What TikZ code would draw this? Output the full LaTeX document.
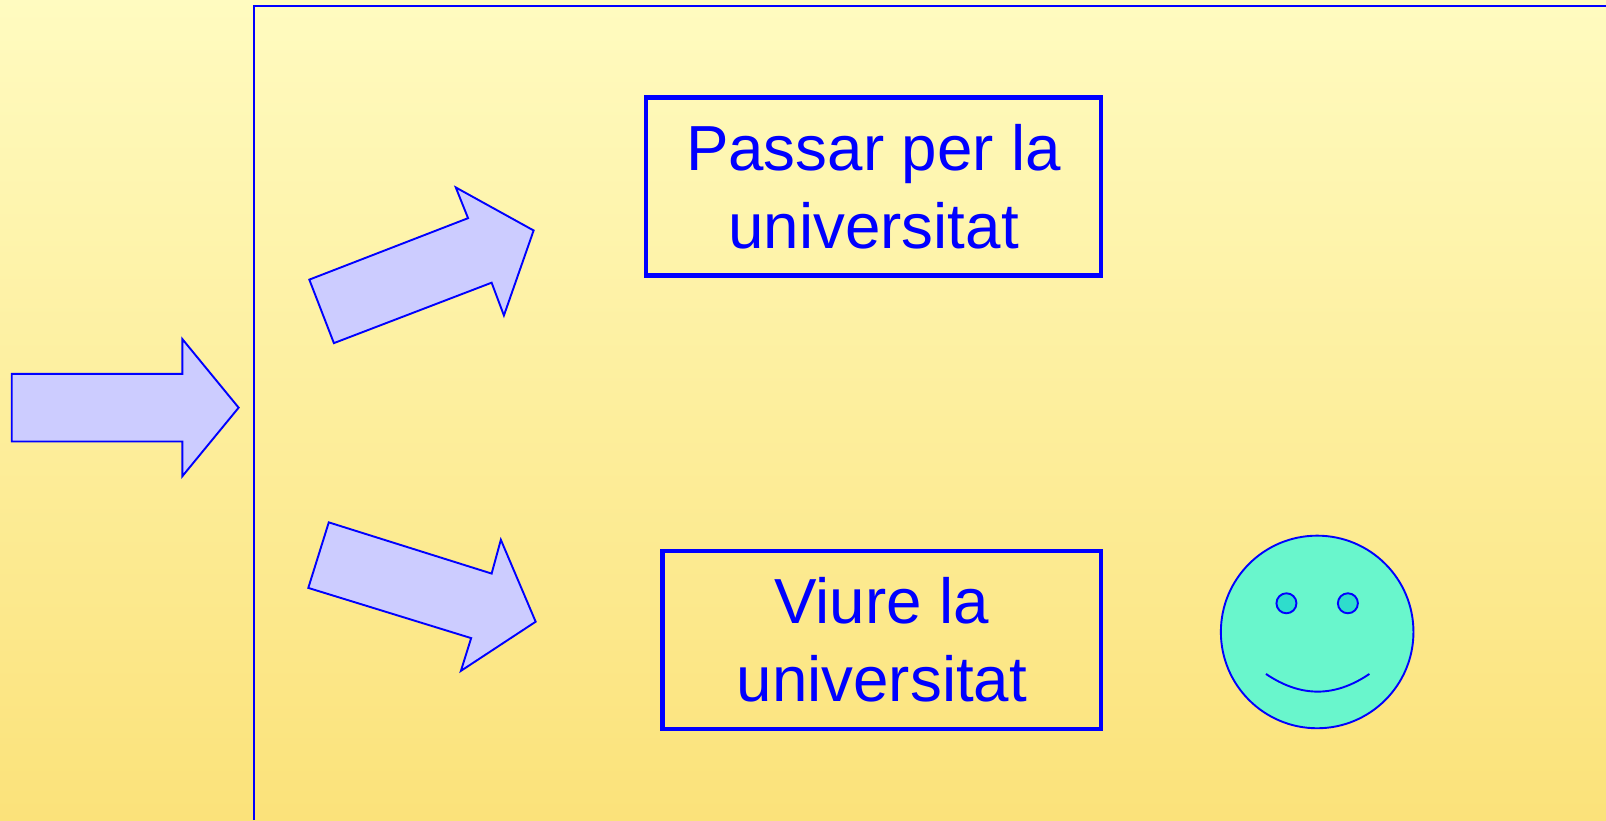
\documentclass[tikz,border=0pt]{standalone}
\usepackage{fontspec}
\setmainfont{Liberation Sans}
\definecolor{bgtop}{HTML}{FFFBC0}
\definecolor{bgbottom}{HTML}{FBE27A}
\definecolor{arrowfill}{HTML}{CCCCFF}
\definecolor{facefill}{HTML}{69F6CC}
\definecolor{eyefill}{HTML}{2EDDCC}
\tikzstyle{block} = [draw=blue, line width=2.2pt, rectangle, text=blue, align=center,
    font=\fontsize{31.85}{39}\selectfont, minimum height=89.1pt, inner sep=0pt]
\tikzstyle{bigarrow} = [draw=blue, fill=arrowfill, line width=0.95pt, line join=miter]
\tikzstyle{face} = [draw=blue, fill=facefill, line width=0.95pt, circle, minimum size=96.3pt, inner sep=0pt]
\tikzstyle{eye} = [draw=blue, fill=eyefill, line width=0.95pt, circle, minimum size=10pt, inner sep=0pt]

\begin{document}
\begin{tikzpicture}[x=0.51212pt,y=-0.51212pt]
    % We start with the background
    \useasboundingbox (0,0) rectangle (1568,800.6);
    \shade [top color=bgtop, bottom color=bgbottom] (0,0) rectangle (1568,800.6);
    \draw [blue, line width=0.95pt] (248,800.6) -- (248,6) -- (1568,6);

    \draw [bigarrow] (11.5,365) -- (178,365) -- (178,331) -- (233,398) -- (178,465) -- (178,431) -- (11.5,431) -- cycle;
    \draw [bigarrow] (302,273) -- (457,213) -- (445,183) -- (521,225) -- (492,308) -- (480,276) -- (326,335) -- cycle;
    \draw [bigarrow] (321,510) -- (480,560) -- (489,527) -- (523,607) -- (450,655) -- (460,623) -- (301,574) -- cycle;

    \node [block, minimum width=227.4pt] (passar) at (853,182) {Passar per la\\universitat};
    \node [block, minimum width=219.4pt] (viure) at (861,625) {Viure la\\universitat};

    \node [face] (face) at (1286,617) {};
    \node [eye] (lefteye) at (1256,589) {};
    \node [eye] (righteye) at (1316,589) {};
    \coordinate (mouthl) at (1236,658);
    \coordinate (mouthr) at (1337,658);
    \draw [blue, line width=0.95pt] (mouthl) .. controls (1270,681) and (1303,681) .. (mouthr);
\end{tikzpicture}
\end{document}
